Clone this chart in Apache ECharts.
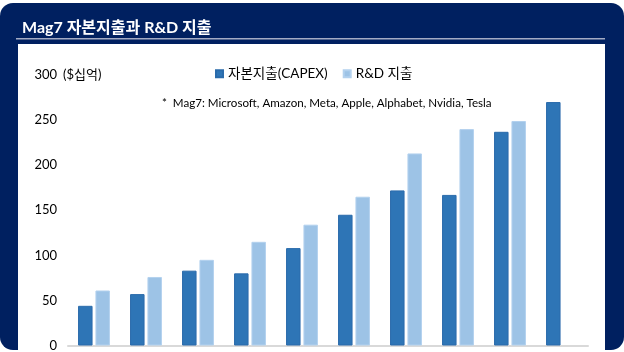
<!DOCTYPE html>
<html>
<head>
<meta charset="utf-8">
<script src="https://cdn.jsdelivr.net/npm/echarts@6/dist/echarts.min.js"></script>
<style>
html,body{margin:0;padding:0;background:#fff;}
#c{width:624px;height:352px;}
</style>
</head>
<body>
<div id="c"></div>
<script>
var titleText = 'Mag7 자본지출과 R&D 지출';
var unitText = '($십억)';
var noteText = '*  Mag7: Microsoft, Amazon, Meta, Apple, Alphabet, Nvidia, Tesla';
var categories = ['2016','2017','2018','2019','2020','2021','2022','2023','2024','2025E'];
var capexName = '자본지출(CAPEX)';
var rndName = 'R&D 지출';
var capexValues = [44, 57, 83, 80, 108, 145, 172, 167, 237, 270];
var rndValues = [61, 76, 95, 115, 134, 165, 213, 240, 249, null];
var yTicks = [0, 50, 100, 150, 200, 250, 300];

var FONT = "Lato, 'Noto Sans CJK KR', sans-serif";
var chart = echarts.init(document.getElementById('c'));
chart.setOption({
  backgroundColor: '#ffffff',
  animation: false,
  textStyle: {fontFamily: FONT},
  title: {
    text: titleText, left: 17, top: 15,
    textStyle: {color: '#ffffff', fontSize: 16, fontWeight: 'bold', fontFamily: FONT}
  },
  graphic: [
    {type: 'rect', z: -10, shape: {x: 0, y: 3, width: 624, height: 347, r: 13}, style: {fill: '#002060'}},
    {type: 'rect', z: -9, shape: {x: 18, y: 44, width: 587, height: 320}, style: {fill: '#ffffff'}},
    {type: 'rect', z: -9, shape: {x: 16, y: 38, width: 589, height: 1.5}, style: {fill: '#a3abc4'}},
    {type: 'text', z: 5, left: 63, top: 68, style: {text: unitText, fill: '#000', fontSize: 13, fontFamily: FONT}},
    {type: 'text', z: 5, left: 162, top: 97, style: {text: noteText, fill: '#000', fontSize: 11.6, fontFamily: FONT}}
  ],
  legend: {
    left: 210, top: 62, icon: 'rect', itemWidth: 7, itemHeight: 7, itemGap: 15,
    textStyle: {fontSize: 13.5, color: '#000', fontFamily: FONT},
    data: [capexName, rndName]
  },
  grid: {left: 68, right: 36, top: 75, bottom: 4.5},
  xAxis: {
    type: 'category', data: categories,
    axisLine: {lineStyle: {color: '#d9d9d9', width: 2}},
    axisTick: {show: false},
    axisLabel: {show: false}
  },
  yAxis: {
    type: 'value', min: 0, max: 300, interval: 50,
    axisLine: {show: false}, axisTick: {show: false}, splitLine: {show: false},
    axisLabel: {
      margin: 11, fontSize: 13, color: '#000', fontFamily: FONT,
      formatter: function (v) { return yTicks.indexOf(v) >= 0 ? String(v) : ''; }
    }
  },
  series: [
    {name: capexName, type: 'bar', data: capexValues, barWidth: 14.5, barGap: '20%',
     itemStyle: {color: '#2e75b6', borderColor: '#2a6bab', borderWidth: 1}},
    {name: rndName, type: 'bar', data: rndValues, barWidth: 14.5, barGap: '20%',
     itemStyle: {color: '#9dc3e6', borderColor: '#b3d1ee', borderWidth: 1}}
  ]
});
</script>
</body>
</html>
